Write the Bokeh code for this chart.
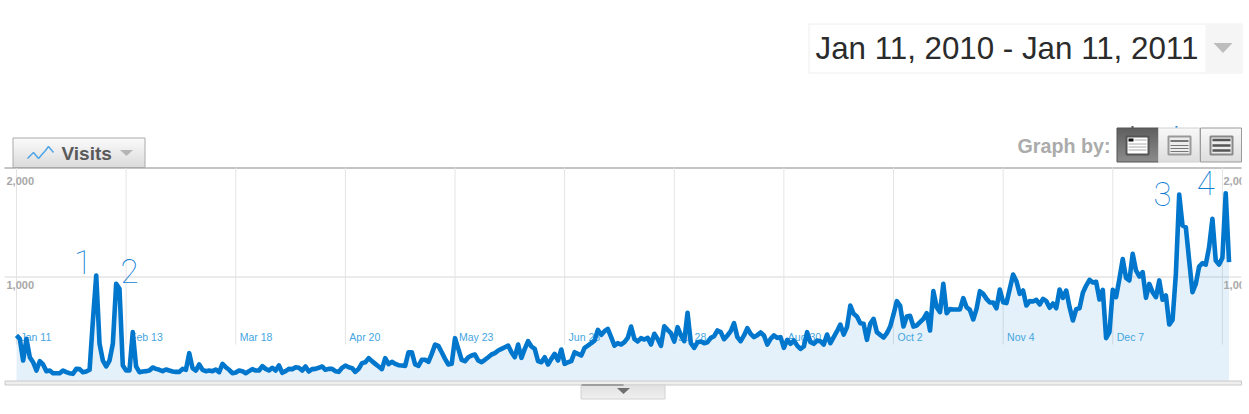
from bokeh.plotting import figure
from bokeh.models import Range1d
from bokeh.core.properties import value
from bokeh.embed import file_html
from bokeh.resources import INLINE

visits = [433,400,192,400,224,176,96,186,154,90,96,70,70,70,96,80,70,64,112,109,80,87,103,577,1010,353,192,135,192,353,930,881,144,96,96,465,135,80,87,90,96,125,112,103,90,106,96,87,83,83,112,103,263,119,96,154,103,90,96,90,106,80,160,128,103,70,77,96,90,70,90,109,96,96,138,112,96,122,96,144,74,90,112,109,128,122,96,135,87,109,112,122,
135,103,112,112,90,83,122,144,128,119,83,112,167,176,215,186,160,135,109,215,157,180,160,147,144,141,272,272,154,141,199,199,180,256,346,333,272,208,154,160,407,304,199,186,224,240,250,192,176,199,224,250,263,288,304,320,336,272,224,346,218,304,378,327,304,186,176,224,154,208,256,192,298,160,176,186,272,256,240,314,336,359,384,487,439,474,497,417,336,359,346,368,410,519,400,375,
407,394,410,346,449,400,333,522,487,455,375,513,433,378,651,359,314,368,375,359,368,410,426,481,465,397,433,474,551,417,378,433,503,449,417,436,462,433,346,400,433,410,417,314,391,353,384,336,304,327,465,368,353,384,378,346,442,359,417,474,538,442,513,721,641,615,551,545,391,545,593,465,439,413,455,519,635,763,718,519,615,622,519,529,561,593,647,481,859,705,657,929,647,686,
683,683,683,792,705,679,587,689,859,833,785,750,750,695,875,753,744,881,1019,955,833,865,721,763,760,776,731,785,763,699,740,695,875,795,865,705,577,686,695,843,913,968,942,949,779,872,407,465,872,801,978,1167,987,962,1218,1058,1000,1042,795,929,849,801,962,776,817,538,583,1026,1788,1490,1474,1154,849,929,1096,1128,1115,1282,1554,1154,1115,1179,1801,1138]
days = list(range(len(visits)))
tick_days = [0,33,66,99,132,165,198,231,264,297,330,363]
tick_labels = ["Jan 11","Feb 13","Mar 18","Apr 20","May 23","Jun 25","Jul 28","Aug 30","Oct 2","Nov 4","Dec 7",""]
y_ticks = [1000,2000]
y_labels = ["1,000","2,000"]
notes = ["1","2","3","4"]
note_days = [20,34,345,358]
note_vals = [1135,1050,1795,1900]
date_range = "Jan 11, 2010 - Jan 11, 2011"

PX_DAY, PX_VAL = 3.322, 0.104
W, H = 1249, 414
p = figure(width=W, height=H, output_backend="svg", toolbar_location=None,
           x_axis_location=None, y_axis_location=None, min_border=0,
           x_range=Range1d((0-16)/PX_DAY, (W-16)/PX_DAY),
           y_range=Range1d((380-H)/PX_VAL, (380-0)/PX_VAL))
p.grid.visible = False
p.outline_line_color = None
p.extra_x_ranges["px"] = Range1d(0, W)
p.extra_y_ranges["px"] = Range1d(H, 0)
PX = dict(x_range_name="px", y_range_name="px")

def box(x0, y0, x1, y1, fill, line=None, w=1):
    p.quad(left=[x0], right=[x1], top=[y0], bottom=[y1], fill_color=fill,
           line_color=line, line_width=w, **PX)

def gbox(x0, y0, x1, y1, c0, c1, line):
    n = int(y1 - y0)
    a = [int(c0[i:i+2], 16) for i in (1, 3, 5)]
    b = [int(c1[i:i+2], 16) for i in (1, 3, 5)]
    for k in range(n):
        t = k / max(n - 1, 1)
        c = "#%02x%02x%02x" % tuple(int(a[i] + (b[i] - a[i]) * t) for i in range(3))
        p.quad(left=[x0], right=[x1], top=[y0 + k], bottom=[y0 + k + 1], fill_color=c, line_color=None, **PX)
    p.quad(left=[x0], right=[x1], top=[y0], bottom=[y1], fill_color=None, line_color=line, **PX)

def tri(cx, cy, w, h, color):
    p.patch([cx - w/2, cx + w/2, cx], [cy - h/2, cy - h/2, cy + h/2], fill_color=color, line_color=None, **PX)

def ptext(x, y, s, size, color, style="normal", font="Liberation Sans", align="left"):
    p.text([x], [y], text=[s], text_font=value(font), text_font_size=size, text_font_style=style,
           text_color=color, text_align=align, text_baseline="middle", **PX)

# date picker
box(808.5, 23.5, 1241.5, 72.5, "#ffffff", "#eeeeee")
box(1205, 24, 1241, 72, "#f5f5f5", None)
ptext(815, 47.5, date_range, "31.3px", "#2b2b2b")
tri(1222.5, 47.5, 19, 10, "#bdbdbd")

# chart frame
p.segment([4], [167.5], [1241], [167.5], line_color="#b0b0b0", line_width=1.5, **PX)
g0 = (380-344)/PX_VAL
p.segment(tick_days, [g0]*len(tick_days), tick_days, [2048]*len(tick_days), line_color="#e4e4e4", line_width=1)
p.segment([4], [276.5], [1241], [276.5], line_color="#e4e4e4", line_width=1.5, **PX)

# bottom strip
box(4.5, 380.5, 1241, 384.5, "#efefef", "#c8c8c8")

# area + tick labels + line
p.varea(x=days, y1=[0]*len(days), y2=visits, fill_color="#0077cc", fill_alpha=0.105)
p.text([d + 1.2 for d in tick_days], [(380-336)/PX_VAL]*len(tick_days), text=tick_labels,
       text_font=value("Liberation Sans"), text_font_size="10.5px", text_color="#45a5e0",
       text_align="left", text_baseline="middle")
# y labels on both sides, clipped at the frame's right edge as in the reference
for px_x in (6, 1223):
    for v, s in zip(y_ticks, y_labels):
        ptext(px_x, 284 if v == 1000 else 180, s, "11px", "#a8a8a8", "bold")
box(1241, 170, 1249, 300, "#ffffff")
p.line(days, visits, line_color="#0077cc", line_width=4.6, line_join="round")
p.text(note_days, note_vals, text=notes, text_font=value("Roboto Thin"), text_font_size="33px",
       text_color="#0f7dd2", text_align="center", text_baseline="middle")

# handle under chart
gbox(580.5, 384.5, 664.5, 398.5, "#e2e2e2", "#f0f0f0", "#d2d2d2")
p.segment([581], [384.5], [623], [384.5], line_color="#666666", line_width=1.2, **PX)
tri(623, 390.5, 13, 6, "#6f6f6f")

# Visits tab
gbox(12.5, 137.5, 144.5, 167, "#fbfbfb", "#dcdcdc", "#aaaaaa")
p.line([27, 33, 38, 45, 48, 53], [158, 152, 158, 150, 146, 152], line_color="#4fa5e6", line_width=1.5, **PX)
ptext(61, 152.5, "Visits", "19px", "#5a5a5a", "bold")
tri(126, 152.5, 13, 6, "#b5b5b5")

# Graph by
ptext(1017, 145, "Graph by:", "19.7px", "#ababab", "bold")
p.segment([1131, 1175], [126.5, 126.5], [1133, 1177], [126.5, 126.5], line_color=["#555555", "#2f8fe0"], line_width=2, **PX)
gbox(1116.5, 127.5, 1158, 161.5, "#5f5f5f", "#8c8c8c", "#555555")
gbox(1158, 127.5, 1199, 161.5, "#f8f8f8", "#dedede", "#d0d0d0")
gbox(1200, 127.5, 1241, 161.5, "#f8f8f8", "#dedede", "#9a9a9a")
for x0, inner, edge, rows, col in [(1125, "#ffffff", "#555555", [(143.5,1),(146.5,1),(149.5,1)], "#aaaaaa"),
                                   (1167, "#ececec", "#999999", [(140.5,2),(145,1),(148,1),(151,1)], "#777777"),
                                   (1209, "#ececec", "#888888", [(139.5,2.5),(145,2.5),(150,2.5)], "#555555")]:
    box(x0 + 1, 136, x0 + 23, 154, inner, edge, 2)
    for y, w in rows:
        p.segment([x0 + 3], [y], [x0 + 21], [y], line_color=col, line_width=w, **PX)
box(1128, 138, 1133, 141, "#111111")
p.segment([1134], [139.5], [1146], [139.5], line_color="#aaaaaa", **PX)

open("out.html", "w").write(file_html(p, INLINE))
